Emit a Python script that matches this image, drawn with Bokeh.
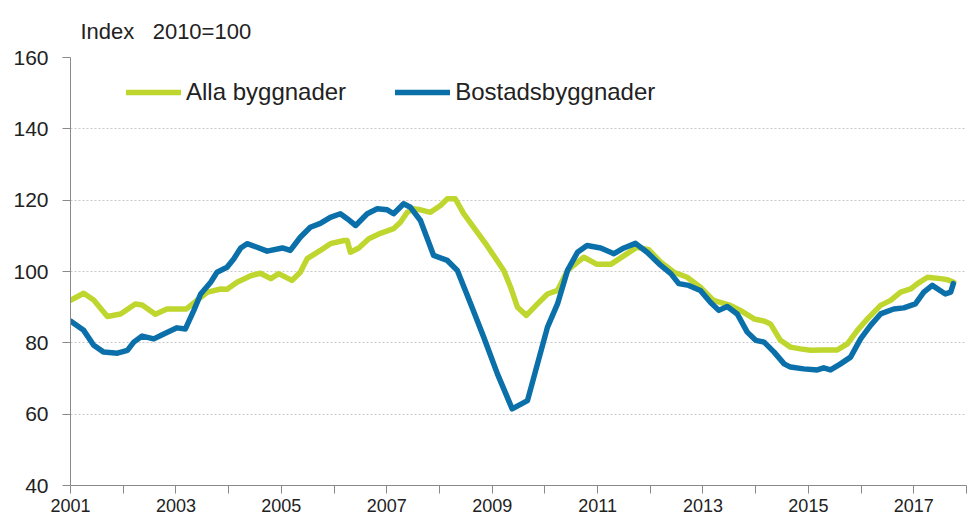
from bokeh.plotting import figure
from bokeh.models import Range1d, FixedTicker, Legend, LegendItem
from bokeh.embed import file_html
from bokeh.resources import INLINE

# Alla byggnader (decimal year, index 2010=100)
alla_t = [2001.0, 2001.25, 2001.44, 2001.7, 2001.95, 2002.23, 2002.36, 2002.61, 2002.83, 2003.2,
          2003.4, 2003.6, 2003.85, 2003.97, 2004.16, 2004.42, 2004.6, 2004.8, 2004.95, 2005.2,
          2005.36, 2005.49, 2005.74, 2005.93, 2006.19, 2006.25, 2006.31, 2006.47, 2006.66, 2006.88,
          2007.13, 2007.26, 2007.39, 2007.51, 2007.64, 2007.83, 2008.02, 2008.15, 2008.3, 2008.46,
          2008.65, 2008.9, 2009.22, 2009.35, 2009.48, 2009.65, 2009.86, 2010.05, 2010.24, 2010.43,
          2010.74, 2010.99, 2011.25, 2011.56, 2011.75, 2011.97, 2012.2, 2012.45, 2012.7, 2012.95,
          2013.2, 2013.52, 2013.71, 2013.97, 2014.16, 2014.28, 2014.47, 2014.66, 2014.85, 2015.04,
          2015.29, 2015.55, 2015.74, 2015.93, 2016.12, 2016.37, 2016.56, 2016.75, 2016.94, 2017.07,
          2017.26, 2017.51, 2017.64, 2017.76]
alla_v = [91.9, 93.9, 92.0, 87.4, 88.1, 90.9, 90.6, 88.0, 89.5, 89.5,
          91.9, 94.2, 95.1, 95.0, 97.0, 98.8, 99.5, 98.0, 99.4, 97.5,
          99.8, 103.6, 105.9, 107.8, 108.7, 108.7, 105.4, 106.6, 109.2, 110.7,
          112.0, 113.8, 116.6, 117.6, 117.3, 116.6, 118.5, 120.4, 120.4, 116.2,
          112.4, 107.3, 100.3, 95.6, 90.0, 87.7, 90.9, 93.7, 94.7, 100.3,
          104.0, 102.0, 102.0, 105.0, 106.8, 106.1, 102.6, 99.8, 98.4, 95.6,
          91.9, 90.5, 89.1, 86.7, 86.1, 85.3, 80.7, 78.8, 78.3, 77.9,
          78.0, 78.0, 79.7, 83.5, 86.7, 90.5, 91.9, 94.2, 95.1, 96.6,
          98.4, 98.0, 97.7, 97.0]

# Bostadsbyggnader
bost_t = [2001.0, 2001.25, 2001.44, 2001.63, 2001.89, 2002.08, 2002.2, 2002.36, 2002.58, 2002.77,
          2003.02, 2003.18, 2003.34, 2003.47, 2003.66, 2003.78, 2003.97, 2004.1, 2004.23, 2004.35,
          2004.54, 2004.73, 2005.02, 2005.17, 2005.36, 2005.55, 2005.74, 2005.93, 2006.12, 2006.25,
          2006.41, 2006.63, 2006.82, 2007.01, 2007.13, 2007.32, 2007.45, 2007.64, 2007.89, 2008.15,
          2008.34, 2008.59, 2008.84, 2009.1, 2009.38, 2009.67, 2009.86, 2010.05, 2010.24, 2010.43,
          2010.62, 2010.8, 2011.06, 2011.31, 2011.5, 2011.72, 2011.94, 2012.2, 2012.39, 2012.54,
          2012.73, 2012.95, 2013.14, 2013.3, 2013.46, 2013.65, 2013.84, 2014.0, 2014.16, 2014.35,
          2014.54, 2014.66, 2014.91, 2015.17, 2015.29, 2015.42, 2015.61, 2015.8, 2015.99, 2016.18,
          2016.37, 2016.62, 2016.81, 2017.03, 2017.19, 2017.35, 2017.6, 2017.7, 2017.75]
bost_v = [86.1, 83.5, 79.3, 77.4, 77.1, 77.9, 80.2, 81.9, 81.1, 82.5,
          84.2, 83.9, 89.1, 93.7, 97.0, 99.8, 101.2, 103.6, 106.6, 107.8,
          106.8, 105.7, 106.6, 105.9, 109.6, 112.4, 113.5, 115.2, 116.2, 114.8,
          112.9, 116.2, 117.6, 117.3, 116.2, 119.0, 118.0, 114.3, 104.5, 103.1,
          100.3, 91.0, 81.6, 71.3, 61.5, 63.8, 74.1, 84.4, 90.9, 100.3,
          105.4, 107.3, 106.6, 105.0, 106.6, 107.9, 105.4, 101.7, 99.4, 96.6,
          96.1, 94.7, 91.4, 89.1, 90.2, 88.1, 83.0, 80.7, 80.2, 77.4,
          74.1, 73.2, 72.7, 72.4, 73.0, 72.4, 74.1, 76.0, 81.1, 84.9,
          88.1, 89.5, 89.8, 90.9, 94.2, 96.1, 93.7, 94.2, 96.6]

year_ticks = list(range(2001, 2019))
y_ticks = [40, 60, 80, 100, 120, 140, 160]
series_names = ["Alla byggnader", "Bostadsbyggnader"]
title_text = "Index\u00a0\u00a0\u00a02010=100"

GREEN = "#bfd62f"
BLUE = "#0b70a9"
FONT = "Liberation Sans"
TXT = "#222222"

p = figure(width=968, height=528, output_backend="svg", toolbar_location=None,
           x_range=Range1d(2001, 2018), y_range=Range1d(40, 160),
           min_border_left=70, min_border_right=2, min_border_top=57, min_border_bottom=43)
p.outline_line_color = None
p.background_fill_color = "white"

p.title.text = title_text
p.title.align = "left"
p.title.offset = 10
p.title.standoff = 28
p.title.text_font = FONT
p.title.text_font_size = "22px"
p.title.text_font_style = "normal"
p.title.text_color = TXT

r1 = p.line(alla_t, alla_v, line_color=GREEN, line_width=5.5, line_join="round", line_cap="round")
r2 = p.line(bost_t, bost_v, line_color=BLUE, line_width=5.5, line_join="round", line_cap="round")

p.xgrid.grid_line_color = None
p.ygrid.grid_line_color = "#c8c8c8"
p.ygrid.grid_line_dash = "2 2"
p.ygrid.grid_line_width = 1
p.yaxis.ticker = FixedTicker(ticks=y_ticks)
p.xaxis.ticker = FixedTicker(ticks=year_ticks)
p.xaxis.major_label_overrides = {y: ("" if (y - 2001) % 2 else str(y)) for y in year_ticks}

for ax in (p.xaxis[0], p.yaxis[0]):
    ax.axis_line_color = "#8a8a8a"
    ax.axis_line_width = 1
    ax.major_tick_line_color = "#8a8a8a"
    ax.major_tick_in = 0
    ax.major_tick_out = 8
    ax.minor_tick_line_color = None
    ax.major_label_text_font = FONT
    ax.major_label_text_color = TXT
p.yaxis.major_label_text_font_size = "21px"
p.xaxis.major_label_text_font_size = "18px"
p.yaxis.major_label_standoff = 14
p.xaxis.major_label_standoff = 5

legend = Legend(items=[LegendItem(label=series_names[0], renderers=[r1]),
                       LegendItem(label=series_names[1], renderers=[r2])],
                orientation="horizontal", location=(56, 379),
                glyph_width=55, glyph_height=24, label_standoff=5, spacing=49,
                padding=0, margin=0, border_line_color=None, background_fill_alpha=0,
                label_text_font=FONT, label_text_font_size="24px", label_text_color=TXT)
p.add_layout(legend, "center")

open("out.html", "w").write(file_html(p, INLINE))
